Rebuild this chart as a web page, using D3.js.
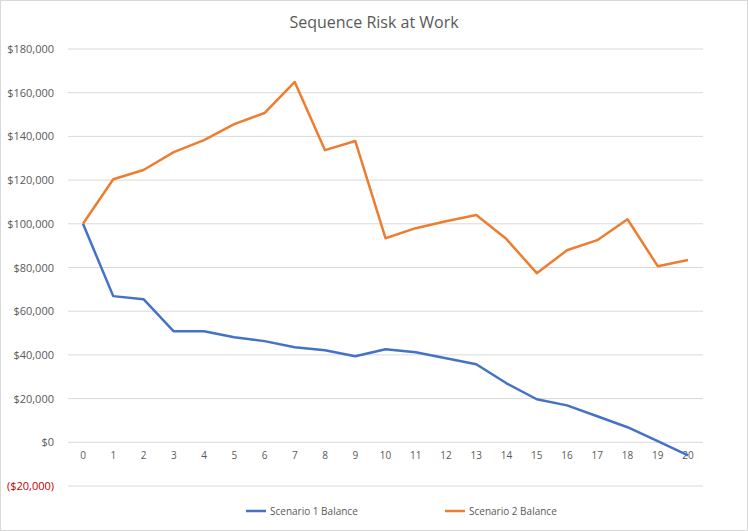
<!DOCTYPE html><html><head><meta charset="utf-8">
<script src="https://cdn.jsdelivr.net/npm/d3@7"></script>
<style>body{margin:0;background:#fff}text{font-family:"Open Sans",sans-serif}</style></head><body>
<svg id="c" width="748" height="531"></svg>
<script>
const years=d3.range(0,21);
const scenario1=[100000,66900,65500,50800,50800,48100,46300,43500,42100,39400,42600,41200,38500,35700,27000,19700,16900,11900,6900,500,-6000];
const scenario2=[100000,120400,124600,132800,138300,145600,150700,164900,133700,137900,93400,98000,101200,104000,93000,77400,87900,92500,102100,80600,83400];
const yTicks=[-20000,0,20000,40000,60000,80000,100000,120000,140000,160000,180000];
const seriesNames=["Scenario 1 Balance","Scenario 2 Balance"];
const colors=["#4472C4","#ED7D31"];
const svg=d3.select("#c");
svg.append("rect").attr("x",0.5).attr("y",0.5).attr("width",747).attr("height",530).attr("fill","#fff").attr("stroke","#d9d9d9");
const x=d3.scalePoint().domain(years).range([83,688]);
const y=d3.scaleLinear().domain([-20000,180000]).range([486,49]);
svg.append("text").attr("x",374).attr("y",28).attr("text-anchor","middle").attr("font-size",16).attr("fill","#595959").text("Sequence Risk at Work");
svg.append("g").selectAll("line").data(yTicks).join("line").attr("x1",68).attr("x2",703).attr("y1",d=>y(d)).attr("y2",d=>y(d)).attr("stroke","#d9d9d9");
const fmt=d=>d<0?"($"+d3.format(",")(-d)+")":"$"+d3.format(",")(d);
svg.append("g").selectAll("text").data(yTicks).join("text").attr("x",54).attr("y",d=>y(d)+4).attr("text-anchor","end").attr("font-size",11).attr("fill",d=>d<0?"#c00000":"#595959").text(fmt);
svg.append("g").selectAll("text").data(years).join("text").attr("x",d=>x(d)).attr("y",y(0)+17).attr("text-anchor","middle").attr("font-size",10).attr("fill","#595959").text(d=>d);
const line=d3.line().x((d,i)=>x(years[i])).y(d=>y(d));
[scenario1,scenario2].forEach((s,i)=>svg.append("path").attr("d",line(s)).attr("fill","none").attr("stroke",colors[i]).attr("stroke-width",2.5).attr("stroke-linejoin","round"));
const lx=[246,445];
seriesNames.forEach((n,i)=>{
 svg.append("line").attr("x1",lx[i]).attr("x2",lx[i]+20).attr("y1",511).attr("y2",511).attr("stroke",colors[i]).attr("stroke-width",2.5);
 svg.append("text").attr("x",lx[i]+24).attr("y",515).attr("font-size",10).attr("fill","#595959").text(n);
});
</script></body></html>
